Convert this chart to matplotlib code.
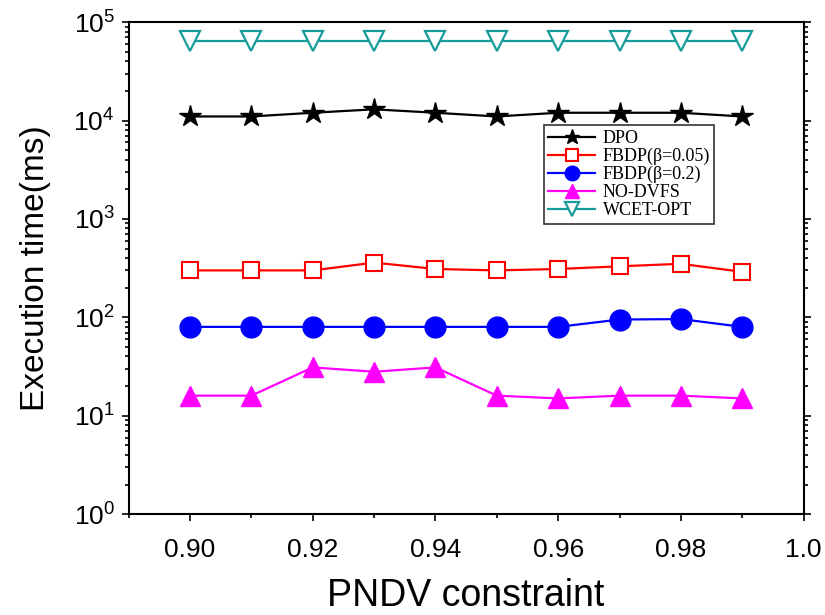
import matplotlib
matplotlib.use('Agg')
import matplotlib.pyplot as plt
from matplotlib.ticker import LogLocator, NullFormatter, MultipleLocator

# PNDV constraint values
pndv = [0.90, 0.91, 0.92, 0.93, 0.94, 0.95, 0.96, 0.97, 0.98, 0.99]

# execution times (ms)
dpo = [11000, 11000, 12000, 13000, 12000, 11000, 12000, 12000, 12000, 11000]
fbdp_005 = [300, 300, 300, 360, 310, 300, 310, 330, 350, 290]
fbdp_02 = [80, 80, 80, 80, 80, 80, 80, 95, 96, 80]
no_dvfs = [16, 16, 31, 28, 31, 16, 15, 16, 16, 15]
wcet_opt = [65000, 65000, 65000, 65000, 65000, 65000, 65000, 65000, 65000, 65000]

plt.rcParams['font.family'] = ['Liberation Sans', 'DejaVu Sans']

fig = plt.figure(figsize=(8.25, 6.15), dpi=100)
ax = fig.add_axes([0.156, 0.164, 0.818, 0.80])

ax.plot(pndv, dpo, color='black', marker='*', markersize=16, lw=1.6, label='DPO')
ax.plot(pndv, fbdp_005, color='red', marker='s', markersize=12, mfc='white',
        mec='red', mew=1.5, lw=1.6, label='FBDP(β=0.05)')
ax.plot(pndv, fbdp_02, color='blue', marker='o', markersize=15, lw=1.6,
        label='FBDP(β=0.2)')
ax.plot(pndv, no_dvfs, color='magenta', marker='^', markersize=15, lw=1.6,
        label='NO-DVFS')
ax.plot(pndv, wcet_opt, color='#179c9c', marker='v', markersize=14, mfc='white',
        mec='#179c9c', mew=1.6, lw=1.6, label='WCET-OPT')

ax.set_yscale('log')
ax.set_ylim(1, 1e5)
ax.set_xlim(0.89, 1.0)
ax.xaxis.set_minor_locator(MultipleLocator(0.01))
ax.set_xticks([0.90, 0.92, 0.94, 0.96, 0.98, 1.0])
ax.set_xticklabels(['0.90', '0.92', '0.94', '0.96', '0.98', '1.0'])
ax.yaxis.set_major_locator(LogLocator(base=10, numticks=10))
ax.yaxis.set_minor_locator(LogLocator(base=10, subs=range(2, 10), numticks=50))
ax.yaxis.set_minor_formatter(NullFormatter())

ax.tick_params(which='both', direction='out', right=True, top=False,
               labelsize=19, width=1.2)
ax.tick_params(which='major', length=5)
ax.tick_params(which='minor', length=3)
ax.tick_params(axis='x', which='major', pad=12)
ax.tick_params(axis='y', which='major', pad=5)
for s in ax.spines.values():
    s.set_linewidth(1.5)

ax.set_xlabel('PNDV constraint', fontsize=27, labelpad=12)
ax.set_ylabel('Execution time(ms)', fontsize=24)
ax.yaxis.set_label_coords(-0.115, 0.5)

leg = ax.legend(loc='upper right', bbox_to_anchor=(0.868, 0.79),
                prop={'family': 'Liberation Serif', 'size': 13},
                frameon=True, fancybox=False, edgecolor='black',
                handlelength=2.6, borderpad=0.25, labelspacing=0.05,
                markerscale=0.7, handletextpad=0.4, borderaxespad=0)
leg.get_frame().set_linewidth(1.2)
leg.get_frame().set_facecolor('none')

fig.savefig('out.png', dpi=100)
